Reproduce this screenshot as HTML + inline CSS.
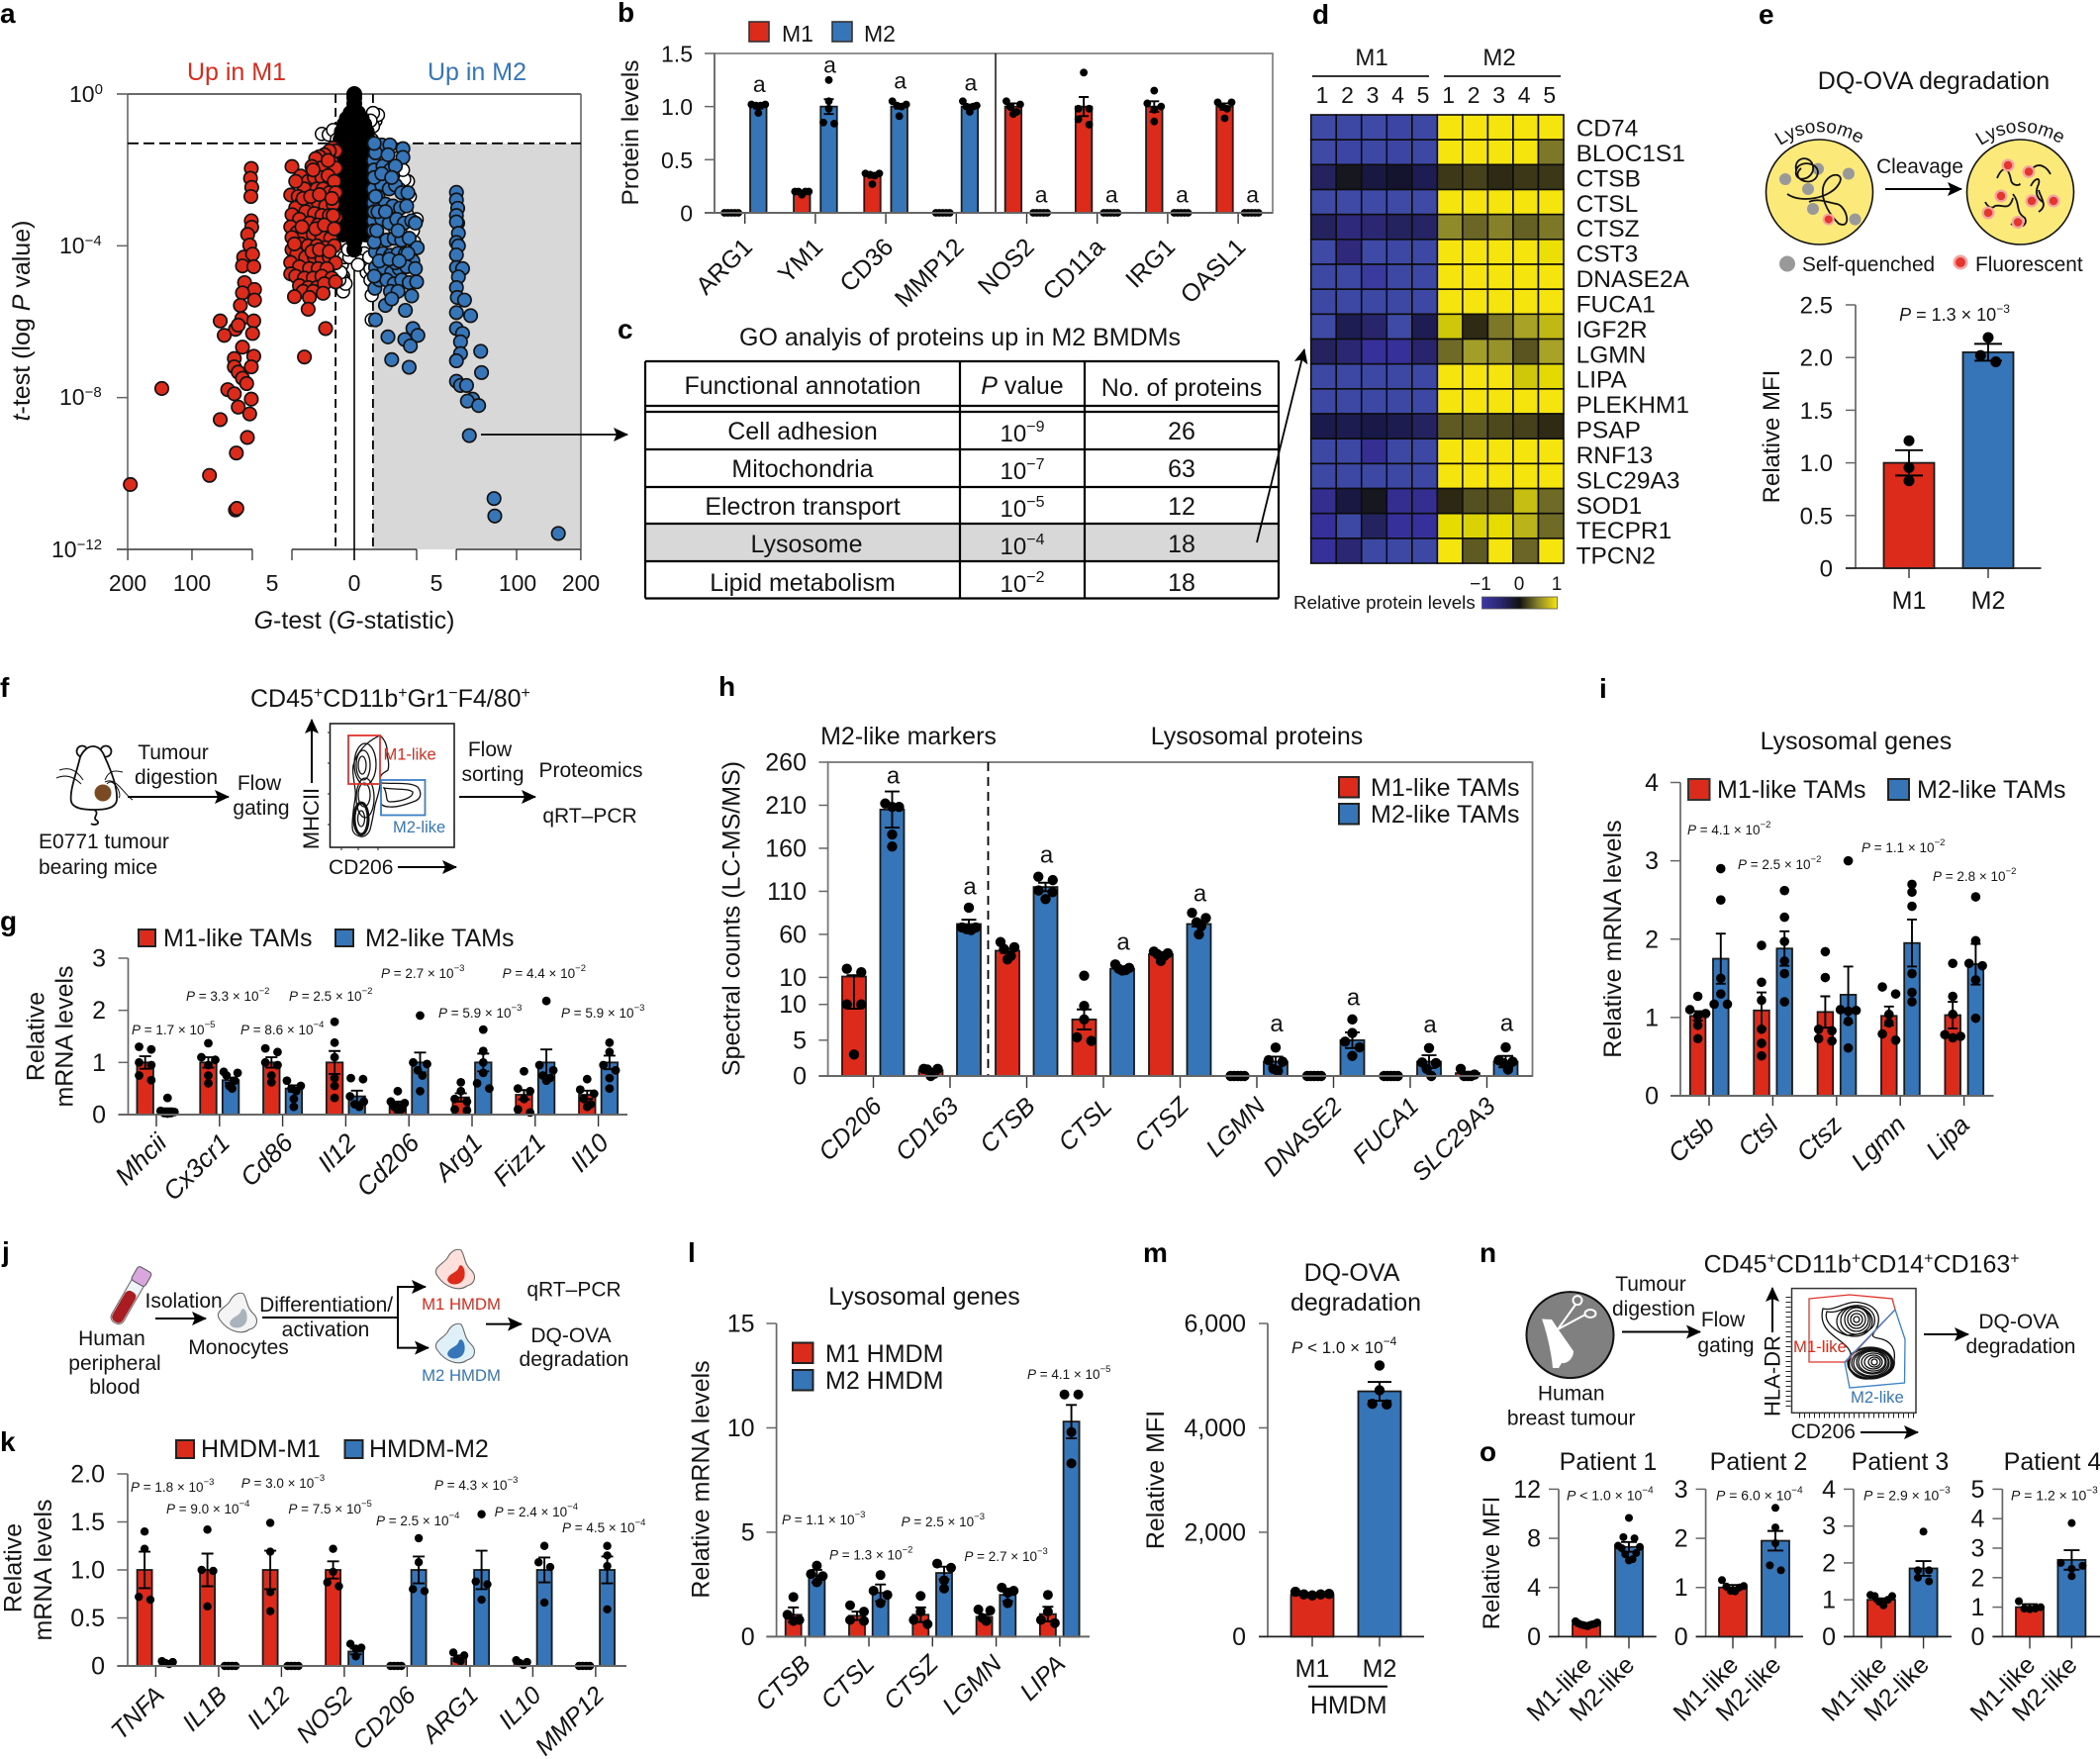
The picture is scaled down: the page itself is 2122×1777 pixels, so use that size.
<!DOCTYPE html>
<html lang="en">
<head>
<meta charset="utf-8">
<title>Proteomics figure of M1 and M2 macrophages</title>
<style>
html,body{margin:0;padding:0;background:#fff;width:2122px;height:1777px;overflow:hidden}
svg{display:block}
text{font-family:"Liberation Sans",sans-serif;fill:#141414}
.l{font-size:28px;font-weight:700;fill:#000}
.f17{font-size:16.7px}.f19{font-size:19px}.f20{font-size:20.8px}.f21{font-size:21px}.f22{font-size:22px}.f23{font-size:23px}.f24{font-size:24px}.f25{font-size:25px}
.p{font-size:13.5px}
.m{text-anchor:middle}
.red{fill:#dc2a1b}.blue{fill:#3676b8}
.ln{stroke:#000;stroke-width:2.2;fill:none}
.ct{stroke:#111;stroke-width:1.3;fill:none}
.sq{stroke:#111;stroke-width:1.8;fill:none}
</style>
</head>
<body>
<svg id="figure" xmlns="http://www.w3.org/2000/svg" width="2122" height="1777" viewBox="0 0 2122 1777">
<defs>
<marker id="ah" markerUnits="userSpaceOnUse" markerWidth="16" markerHeight="16" refX="14" refY="8" orient="auto"><path d="M0 1 L15 8 L0 15 L3 8 Z" fill="#000"/></marker>
<linearGradient id="cbar" x1="0" x2="1" y1="0" y2="0"><stop offset="0" stop-color="#3c3aa3"/><stop offset="0.25" stop-color="#2a2670"/><stop offset="0.5" stop-color="#111"/><stop offset="0.75" stop-color="#8a852a"/><stop offset="1" stop-color="#f6e40f"/></linearGradient>
</defs>

<g id="panel-letters">
<text class="l" x="0" y="23">a</text>
<text class="l" x="624" y="22">b</text>
<text class="l" x="624" y="342">c</text>
<text class="l" x="1326" y="24">d</text>
<text class="l" x="1777" y="24">e</text>
<text class="l" x="0" y="704">f</text>
<text class="l" x="0" y="940">g</text>
<text class="l" x="726" y="703">h</text>
<text class="l" x="1616" y="705">i</text>
<text class="l" x="2" y="1274">j</text>
<text class="l" x="0" y="1466">k</text>
<text class="l" x="695" y="1275">l</text>
<text class="l" x="1155" y="1275">m</text>
<text class="l" x="1495" y="1275">n</text>
<text class="l" x="1495" y="1476">o</text>
</g>

<!-- panel a static labels -->
<g id="panel-a-labels">
<text class="f25 m red" x="239" y="81">Up in M1</text>
<text class="f25 m blue" x="482" y="81">Up in M2</text>
<text class="f25 m" x="358" y="635"><tspan font-style="italic">G</tspan>-test (<tspan font-style="italic">G</tspan>-statistic)</text>
<text class="f25 m" transform="translate(30,324) rotate(-90)"><tspan font-style="italic">t</tspan>-test (log <tspan font-style="italic">P</tspan> value)</text>
<text class="f23" x="70" y="103">10<tspan dy="-8" font-size="15">0</tspan></text>
<text class="f23" x="60" y="256">10<tspan dy="-8" font-size="15">−4</tspan></text>
<text class="f23" x="60" y="409">10<tspan dy="-8" font-size="15">−8</tspan></text>
<text class="f23" x="52" y="563">10<tspan dy="-8" font-size="15">−12</tspan></text>
<text class="f23 m" x="129" y="597">200</text>
<text class="f23 m" x="194" y="597">100</text>
<text class="f23 m" x="275" y="597">5</text>
<text class="f23 m" x="358" y="597">0</text>
<text class="f23 m" x="441" y="597">5</text>
<text class="f23 m" x="523" y="597">100</text>
<text class="f23 m" x="587" y="597">200</text>
</g>
<g id="panel-a"></g>
<line x1="486" y1="439" x2="634" y2="439" stroke="#000" stroke-width="1.8" marker-end="url(#ah)"/>

<!-- panel b -->
<g>
<rect x="757" y="22" width="20" height="20" fill="#dc2a1b" stroke="#333" stroke-width="1.6"/>
<text class="f23" x="790" y="42">M1</text>
<rect x="841" y="22" width="20" height="20" fill="#3676b8" stroke="#333" stroke-width="1.6"/>
<text class="f23" x="873" y="42">M2</text>
<text font-size="24.5" class="m" transform="translate(645,134) rotate(-90)">Protein levels</text>
<rect x="722" y="54" width="564" height="161" fill="none" stroke="#777" stroke-width="1.6"/>
<line x1="1006" y1="54" x2="1006" y2="215" stroke="#000" stroke-width="1.4"/>
</g>
<g id="panel-b"></g>

<!-- panel c -->
<g>
<text class="f25 m" x="970" y="349">GO analyis of proteins up in M2 BMDMs</text>
<rect x="652" y="529" width="640" height="38" fill="#d8d8d8"/>
<path class="ln" d="M652 365H1292M652 410H1292M652 416H1292M652 454H1292M652 492H1292M652 529H1292M652 567H1292M652 604.5H1292M652 365V604.5M970 365V604.5M1096 365V604.5M1292 365V604.5"/>
<text class="f25 m" x="811" y="398">Functional annotation</text>
<text class="f25 m" x="1033" y="398"><tspan font-style="italic">P</tspan> value</text>
<text class="f25 m" x="1194" y="400">No. of proteins</text>
<text class="f25 m" x="811" y="444">Cell adhesion</text>
<text class="f25 m" x="811" y="482">Mitochondria</text>
<text class="f25 m" x="811" y="520">Electron transport</text>
<text class="f25 m" x="815" y="558">Lysosome</text>
<text class="f25 m" x="811" y="597">Lipid metabolism</text>
<text class="f24 m" x="1033" y="446">10<tspan dy="-10" font-size="16">−9</tspan></text>
<text class="f24 m" x="1033" y="484">10<tspan dy="-10" font-size="16">−7</tspan></text>
<text class="f24 m" x="1033" y="522">10<tspan dy="-10" font-size="16">−5</tspan></text>
<text class="f24 m" x="1033" y="560">10<tspan dy="-10" font-size="16">−4</tspan></text>
<text class="f24 m" x="1033" y="598">10<tspan dy="-10" font-size="16">−2</tspan></text>
<text class="f25 m" x="1194" y="444">26</text>
<text class="f25 m" x="1194" y="482">63</text>
<text class="f25 m" x="1194" y="520">12</text>
<text class="f25 m" x="1194" y="558">18</text>
<text class="f25 m" x="1194" y="597">18</text>
<line x1="1270" y1="548" x2="1318" y2="353" stroke="#000" stroke-width="1.8" marker-end="url(#ah)"/>
</g>

<!-- panel d -->
<g>
<text class="f24 m" x="1386" y="66">M1</text>
<text class="f24 m" x="1515" y="66">M2</text>
<path d="M1326 77H1444M1459 77H1577" stroke="#333" stroke-width="2" fill="none"/>
<text font-size="18.8" x="1307" y="615">Relative protein levels</text>
<rect x="1497.5" y="603" width="76" height="12" fill="url(#cbar)" stroke="#555" stroke-width="0.8"/>
<text class="f19 m" x="1496" y="596">−1</text>
<text class="f19 m" x="1535" y="596">0</text>
<text class="f19 m" x="1573" y="596">1</text>
</g>
<g id="panel-d"></g>

<!-- panel e schematic -->
<g>
<text class="f25 m" x="1954" y="90">DQ-OVA degradation</text>
<ellipse cx="1838.5" cy="194" rx="54" ry="53" fill="#fbe97a" stroke="#111" stroke-width="1.6"/>
<ellipse cx="2041.5" cy="194" rx="54" ry="53" fill="#fbe97a" stroke="#111" stroke-width="1.6"/>
<path id="arcL" d="M1792 152 Q1838 116 1886 150" fill="none"/>
<path id="arcR" d="M1995 152 Q2041 116 2089 150" fill="none"/>
<text font-size="19"><textPath href="#arcL" startOffset="50%" text-anchor="middle">Lysosome</textPath></text>
<text font-size="19"><textPath href="#arcR" startOffset="50%" text-anchor="middle">Lysosome</textPath></text>
<text class="f20 m" x="1940" y="175">Cleavage</text>
<line x1="1905" y1="191" x2="1982" y2="191" stroke="#000" stroke-width="2" marker-end="url(#ah)"/>
<g fill="#999"><circle cx="1837" cy="170.6" r="6"/><circle cx="1868" cy="175.5" r="6"/><circle cx="1804" cy="181" r="6"/><circle cx="1827" cy="191" r="6"/><circle cx="1832" cy="211" r="6"/><circle cx="1874.5" cy="221.6" r="6"/></g>
<path class="sq" d="M1815 172C1812 158 1830 156 1832 168C1834 182 1812 186 1815 172C1818 160 1842 165 1836 178C1830 190 1808 180 1820 170M1806 196C1820 206 1850 200 1858 186C1866 174 1846 172 1842 190C1840 204 1850 218 1858 226C1872 232 1866 208 1856 206C1846 204 1836 200 1828 204"/>
<circle cx="1847.7" cy="221.6" r="6" fill="#f5a5a0"/><circle cx="1847.7" cy="221.6" r="4" fill="#e5352f"/>
<path class="sq" d="M2018 180C2024 166 2030 170 2032 182C2034 190 2044 186 2040 186M2054 170C2060 164 2068 168 2072 176M2034 200C2030 214 2024 206 2016 208C2012 212 2008 208 2006 204M2034 196C2042 206 2036 214 2046 220C2050 228 2040 232 2032 226M2052 188C2056 180 2062 178 2060 186C2056 194 2058 200 2064 204M2060 192C2062 200 2070 208 2060 214"/>
<g><g fill="#f5a5a0"><circle cx="2029" cy="167" r="6.5"/><circle cx="2050" cy="173.5" r="6.5"/><circle cx="2022" cy="198" r="6.5"/><circle cx="2053" cy="203" r="6.5"/><circle cx="2075" cy="203" r="6.5"/><circle cx="2009" cy="215" r="6.5"/><circle cx="2039" cy="224.5" r="6.5"/></g><g fill="#e5352f"><circle cx="2029" cy="167" r="4.2"/><circle cx="2050" cy="173.5" r="4.2"/><circle cx="2022" cy="198" r="4.2"/><circle cx="2053" cy="203" r="4.2"/><circle cx="2075" cy="203" r="4.2"/><circle cx="2009" cy="215" r="4.2"/><circle cx="2039" cy="224.5" r="4.2"/></g></g>
<circle cx="1806" cy="266.5" r="8" fill="#999"/>
<text class="f20" x="1821" y="274">Self-quenched</text>
<circle cx="1981" cy="265" r="7.5" fill="#f5a5a0"/><circle cx="1981" cy="265" r="5" fill="#e5352f"/>
<text class="f20" x="1996" y="274">Fluorescent</text>
<text class="f24 m" transform="translate(1798,441) rotate(-90)">Relative MFI</text>
<text font-size="18" class="m" x="1975" y="324"><tspan font-style="italic">P</tspan> = 1.3 × 10<tspan dy="-8" font-size="12">−3</tspan></text>
</g>
<g id="panel-e"></g>

<!-- panel f -->
<g>
<text class="f25" x="253" y="714">CD45<tspan dy="-9" font-size="16">+</tspan><tspan dy="9">CD11b</tspan><tspan dy="-9" font-size="16">+</tspan><tspan dy="9">Gr1</tspan><tspan dy="-9" font-size="16">−</tspan><tspan dy="9">F4/80</tspan><tspan dy="-9" font-size="16">+</tspan></text>
<g fill="#fff" stroke="#111" stroke-width="1.8"><circle cx="83" cy="759" r="5.5"/><circle cx="107" cy="759" r="5.5"/><path d="M81 765C76 785 70 800 72 810C74 817 85 818 95 818C105 818 117 817 118 808C119 795 112 778 106 765C103 757 99 754 94 754C89 754 84 758 81 765Z"/><path d="M95 818C102 822 92 826 98 829C102 833 94 834 92 832" fill="none"/><path d="M84 788C76 776 68 775 60 778M82 792C74 784 66 782 57 786M106 788C110 778 116 778 124 780M108 792C114 784 124 802 120 806M106 790C118 784 126 804 134 808" fill="none" stroke-width="1"/><circle cx="104" cy="801" r="8.5" fill="#7a4a22" stroke="none"/></g>
<text class="f21 m" x="175" y="767">Tumour</text>
<text class="f21 m" x="178" y="792">digestion</text>
<line x1="129" y1="805" x2="231" y2="805" stroke="#000" stroke-width="2" marker-end="url(#ah)"/>
<text class="f21 m" x="262" y="798">Flow</text>
<text class="f21 m" x="264" y="823">gating</text>
<text class="f21" x="39" y="857">E0771 tumour</text>
<text class="f21" x="39" y="883">bearing mice</text>
<rect x="333.5" y="731" width="125.5" height="125" fill="#fff" stroke="#111" stroke-width="1.5"/>
<g><path class="ct" d="M364 845C355 843 355 838 357 820C358 810 360 805 359 798C357 785 356 778 357 773C360 762 368 750 384 743C390 748 392 756 391 763C393 768 393 775 392 778C388 781 384 782 384 787C385 795 381 806 379 813C377 825 375 834 374 838C372 843 368 846 364 845Z"/><ellipse class="ct" cx="365" cy="827" rx="3.5" ry="8"/><ellipse cx="365" cy="827" rx="7" ry="16" fill="none" stroke="#111" stroke-width="3"/><ellipse class="ct" cx="366" cy="773" rx="4" ry="9"/><ellipse class="ct" cx="367" cy="773" rx="7" ry="15"/><ellipse class="ct" cx="369" cy="772" rx="11" ry="21"/><ellipse class="ct" cx="368" cy="803" rx="6" ry="12"/><ellipse class="ct" cx="369" cy="806" rx="9" ry="20"/><path class="ct" d="M385 791C400 792 415 790 422 795C426 800 426 806 420 809C410 813 400 816 393 815C388 815 385 813 385 811M388 796C398 798 412 796 417 800C418 806 404 810 394 810C389 810 392 802 388 796Z"/></g>
<rect x="352" y="743" width="32" height="49" fill="none" stroke="#e2332b" stroke-width="1.8"/>
<rect x="385" y="788" width="44.5" height="35.5" fill="none" stroke="#3a80c4" stroke-width="1.8"/>
<text font-size="16.5" class="red" x="387.5" y="767.5">M1-like</text>
<text font-size="16.5" class="blue" x="397" y="841">M2-like</text>
<path d="M331 740H334M331 771H334M331 802H334M331 833H334M345 856V859M362 856V859M382 856V859" stroke="#222" stroke-width="1"/>
<text class="f22 m" transform="translate(322,827) rotate(-90)">MHCII</text>
<line x1="315" y1="791" x2="315" y2="727" stroke="#000" stroke-width="2" marker-end="url(#ah)"/>
<text class="f21" x="332" y="883">CD206</text>
<line x1="402" y1="876" x2="461" y2="876" stroke="#000" stroke-width="2" marker-end="url(#ah)"/>
<text class="f21 m" x="495" y="764">Flow</text>
<text class="f21 m" x="498" y="789">sorting</text>
<line x1="464" y1="805" x2="541" y2="805" stroke="#000" stroke-width="2" marker-end="url(#ah)"/>
<text class="f21 m" x="597" y="785">Proteomics</text>
<text class="f21 m" x="596" y="831">qRT–PCR</text>
</g>

<!-- panel g labels -->
<g>
<rect x="140" y="939" width="17" height="17" fill="#dc2a1b" stroke="#222" stroke-width="2"/>
<text class="f25" x="165" y="956">M1-like TAMs</text>
<rect x="339" y="939" width="18" height="17" fill="#3676b8" stroke="#222" stroke-width="2"/>
<text class="f25" x="369" y="956">M2-like TAMs</text>
<text class="f25 m" transform="translate(44.6,1047) rotate(-90)">Relative</text>
<text class="f25 m" transform="translate(73.6,1047) rotate(-90)">mRNA levels</text>
<text class="p" x="133" y="1045"><tspan font-style="italic">P</tspan> = 1.7 × 10<tspan dy="-7" font-size="9.5">−5</tspan></text>
<text class="p" x="188" y="1011"><tspan font-style="italic">P</tspan> = 3.3 × 10<tspan dy="-7" font-size="9.5">−2</tspan></text>
<text class="p" x="292" y="1011"><tspan font-style="italic">P</tspan> = 2.5 × 10<tspan dy="-7" font-size="9.5">−2</tspan></text>
<text class="p" x="243" y="1045"><tspan font-style="italic">P</tspan> = 8.6 × 10<tspan dy="-7" font-size="9.5">−4</tspan></text>
<text class="p" x="385" y="988"><tspan font-style="italic">P</tspan> = 2.7 × 10<tspan dy="-7" font-size="9.5">−3</tspan></text>
<text class="p" x="443" y="1028"><tspan font-style="italic">P</tspan> = 5.9 × 10<tspan dy="-7" font-size="9.5">−3</tspan></text>
<text class="p" x="507.6" y="988"><tspan font-style="italic">P</tspan> = 4.4 × 10<tspan dy="-7" font-size="9.5">−2</tspan></text>
<text class="p" x="567" y="1028"><tspan font-style="italic">P</tspan> = 5.9 × 10<tspan dy="-7" font-size="9.5">−3</tspan></text>
</g>
<g id="panel-g"></g>

<!-- panel h labels -->
<g>
<text class="f25 m" x="918" y="752">M2-like markers</text>
<text class="f25 m" x="1270" y="752">Lysosomal proteins</text>
<rect x="836.6" y="770" width="711.9" height="317" fill="none" stroke="#777" stroke-width="1.8"/>
<line x1="998.5" y1="770" x2="998.5" y2="1087" stroke="#000" stroke-width="1.8" stroke-dasharray="9 6"/>
<rect x="1353" y="785" width="20" height="20.5" fill="#dc2a1b" stroke="#222" stroke-width="2"/>
<text class="f25" x="1385" y="804">M1-like TAMs</text>
<rect x="1353" y="812" width="20" height="20.5" fill="#3676b8" stroke="#222" stroke-width="2"/>
<text class="f25" x="1385" y="831">M2-like TAMs</text>
<text class="f25 m" transform="translate(747.6,928) rotate(-90)">Spectral counts (LC-MS/MS)</text>
</g>
<g id="panel-h"></g>

<!-- panel i labels -->
<g>
<text class="f25 m" x="1875.5" y="757">Lysosomal genes</text>
<rect x="1706" y="787" width="21.5" height="21" fill="#dc2a1b" stroke="#333" stroke-width="2"/>
<text class="f25" x="1735" y="806">M1-like TAMs</text>
<rect x="1908" y="787" width="21" height="21" fill="#3676b8" stroke="#222" stroke-width="2"/>
<text class="f25" x="1937" y="806">M2-like TAMs</text>
<text class="f25 m" transform="translate(1638,948.6) rotate(-90)">Relative mRNA levels</text>
<text class="p" x="1705" y="843"><tspan font-style="italic">P</tspan> = 4.1 × 10<tspan dy="-7" font-size="9.5">−2</tspan></text>
<text class="p" x="1756" y="878"><tspan font-style="italic">P</tspan> = 2.5 × 10<tspan dy="-7" font-size="9.5">−2</tspan></text>
<text class="p" x="1881" y="861"><tspan font-style="italic">P</tspan> = 1.1 × 10<tspan dy="-7" font-size="9.5">−2</tspan></text>
<text class="p" x="1953" y="890"><tspan font-style="italic">P</tspan> = 2.8 × 10<tspan dy="-7" font-size="9.5">−2</tspan></text>
</g>
<g id="panel-i"></g>

<!-- panel j -->
<g>
<g transform="translate(130,1312) rotate(30)"><rect x="-7" y="-30" width="14" height="58" rx="6" fill="#eef4f8" stroke="#777" stroke-width="1.2"/><rect x="-6" y="-8" width="12" height="35" rx="5" fill="#a81c22"/><rect x="-8" y="-34" width="16" height="16" rx="3" fill="#d9a6e0" stroke="#555" stroke-width="1"/></g>
<text class="f21 m" x="185.6" y="1321">Isolation</text>
<line x1="157" y1="1332" x2="208" y2="1332" stroke="#000" stroke-width="2" marker-end="url(#ah)"/>
<text class="f21 m" x="113" y="1359">Human</text>
<text class="f21 m" x="116" y="1384">peripheral</text>
<text class="f21 m" x="116" y="1408">blood</text>
<g transform="translate(240,1327)"><path d="M-18 6C-24 -2 -12 -6 -8 -12C-4 -20 2 -22 6 -20C10 -14 9 -6 16 0C22 6 20 14 12 16C4 22 -10 18 -18 6Z" fill="#f4f4f4" stroke="#666" stroke-width="1.1"/><path d="M-8 10C-6 2 2 4 4 -4C8 -8 12 4 8 10C4 16 -6 16 -8 10Z" fill="#a8b3bb"/></g>
<text class="f21 m" x="241" y="1368">Monocytes</text>
<text class="f21 m" x="329.6" y="1325">Differentiation/</text>
<text class="f21 m" x="329" y="1350">activation</text>
<path d="M265 1331H402M402 1361.6V1300" stroke="#000" stroke-width="2" fill="none"/>
<line x1="401" y1="1300" x2="430" y2="1300" stroke="#000" stroke-width="2" marker-end="url(#ah)"/>
<line x1="401" y1="1361.6" x2="433" y2="1361.6" stroke="#000" stroke-width="2" marker-end="url(#ah)"/>
<g transform="translate(460,1283)"><path d="M-18 6C-24 -2 -12 -6 -8 -12C-4 -20 2 -22 6 -20C10 -14 9 -6 16 0C22 6 20 14 12 16C4 22 -10 18 -18 6Z" fill="#fde0dc" stroke="#666" stroke-width="1.1"/><path d="M-8 10C-6 2 2 4 4 -4C8 -8 12 4 8 10C4 16 -6 16 -8 10Z" fill="#dc2a1b"/></g>
<g transform="translate(460,1358)"><path d="M-18 6C-24 -2 -12 -6 -8 -12C-4 -20 2 -22 6 -20C10 -14 9 -6 16 0C22 6 20 14 12 16C4 22 -10 18 -18 6Z" fill="#e0f0f8" stroke="#666" stroke-width="1.1"/><path d="M-8 10C-6 2 2 4 4 -4C8 -8 12 4 8 10C4 16 -6 16 -8 10Z" fill="#3676b8"/></g>
<text class="f17 m red" x="466" y="1323">M1 HMDM</text>
<text class="f17 m blue" x="466" y="1395">M2 HMDM</text>
<line x1="491" y1="1337.6" x2="527" y2="1337.6" stroke="#000" stroke-width="2" marker-end="url(#ah)"/>
<text class="f21 m" x="580" y="1309.5">qRT–PCR</text>
<text class="f21 m" x="577" y="1356">DQ-OVA</text>
<text class="f21 m" x="580" y="1380">degradation</text>
</g>

<!-- panel k labels -->
<g>
<rect x="178" y="1455" width="18" height="18" fill="#dc2a1b" stroke="#222" stroke-width="2"/>
<text class="f25" x="203" y="1472">HMDM-M1</text>
<rect x="348.5" y="1455" width="18" height="18" fill="#3676b8" stroke="#222" stroke-width="2"/>
<text class="f25" x="373" y="1472">HMDM-M2</text>
<text class="f25 m" transform="translate(21.7,1584) rotate(-90)">Relative</text>
<text class="f25 m" transform="translate(52,1586) rotate(-90)">mRNA levels</text>
<text class="p" x="132" y="1507"><tspan font-style="italic">P</tspan> = 1.8 × 10<tspan dy="-7" font-size="9.5">−3</tspan></text>
<text class="p" x="168" y="1529"><tspan font-style="italic">P</tspan> = 9.0 × 10<tspan dy="-7" font-size="9.5">−4</tspan></text>
<text class="p" x="243.7" y="1503"><tspan font-style="italic">P</tspan> = 3.0 × 10<tspan dy="-7" font-size="9.5">−3</tspan></text>
<text class="p" x="291.4" y="1529"><tspan font-style="italic">P</tspan> = 7.5 × 10<tspan dy="-7" font-size="9.5">−5</tspan></text>
<text class="p" x="380" y="1541"><tspan font-style="italic">P</tspan> = 2.5 × 10<tspan dy="-7" font-size="9.5">−4</tspan></text>
<text class="p" x="439" y="1505"><tspan font-style="italic">P</tspan> = 4.3 × 10<tspan dy="-7" font-size="9.5">−3</tspan></text>
<text class="p" x="499.6" y="1532"><tspan font-style="italic">P</tspan> = 2.4 × 10<tspan dy="-7" font-size="9.5">−4</tspan></text>
<text class="p" x="568" y="1548"><tspan font-style="italic">P</tspan> = 4.5 × 10<tspan dy="-7" font-size="9.5">−4</tspan></text>
</g>
<g id="panel-k"></g>

<!-- panel l labels -->
<g>
<text class="f25 m" x="934" y="1318">Lysosomal genes</text>
<rect x="801" y="1356.5" width="20.5" height="20.5" fill="#dc2a1b" stroke="#222" stroke-width="2"/>
<text class="f25" x="834" y="1376">M1 HMDM</text>
<rect x="801" y="1384" width="20.5" height="20.5" fill="#3676b8" stroke="#222" stroke-width="2"/>
<text class="f25" x="834" y="1403">M2 HMDM</text>
<text class="f25 m" transform="translate(716.7,1494.5) rotate(-90)">Relative mRNA levels</text>
<text class="p" x="790" y="1540"><tspan font-style="italic">P</tspan> = 1.1 × 10<tspan dy="-7" font-size="9.5">−3</tspan></text>
<text class="p" x="838" y="1575.6"><tspan font-style="italic">P</tspan> = 1.3 × 10<tspan dy="-7" font-size="9.5">−2</tspan></text>
<text class="p" x="910.6" y="1542"><tspan font-style="italic">P</tspan> = 2.5 × 10<tspan dy="-7" font-size="9.5">−3</tspan></text>
<text class="p" x="974.4" y="1577"><tspan font-style="italic">P</tspan> = 2.7 × 10<tspan dy="-7" font-size="9.5">−3</tspan></text>
<text class="p" x="1038" y="1393"><tspan font-style="italic">P</tspan> = 4.1 × 10<tspan dy="-7" font-size="9.5">−5</tspan></text>
</g>
<g id="panel-l"></g>

<!-- panel m labels -->
<g>
<text class="f25 m" x="1366" y="1294">DQ-OVA</text>
<text class="f25 m" x="1370" y="1324">degradation</text>
<text font-size="17" x="1305" y="1367"><tspan font-style="italic">P</tspan> &lt; 1.0 × 10<tspan dy="-8" font-size="12">−4</tspan></text>
<text class="f25 m" transform="translate(1176,1495) rotate(-90)">Relative MFI</text>
<line x1="1322" y1="1703.7" x2="1402" y2="1703.7" stroke="#000" stroke-width="2"/>
<text class="f25 m" x="1362.7" y="1731">HMDM</text>
</g>
<g id="panel-m"></g>

<!-- panel n -->
<g>
<text class="f25" x="1721.6" y="1285.5">CD45<tspan dy="-9" font-size="16">+</tspan><tspan dy="9">CD11b</tspan><tspan dy="-9" font-size="16">+</tspan><tspan dy="9">CD14</tspan><tspan dy="-9" font-size="16">+</tspan><tspan dy="9">CD163</tspan><tspan dy="-9" font-size="16">+</tspan></text>
<ellipse cx="1586.5" cy="1348.6" rx="44" ry="43.5" fill="#808080" stroke="#111" stroke-width="2"/>
<path d="M1558 1332.5L1568 1333L1576 1345L1590 1365C1590 1372 1584 1378 1578 1377L1575 1382L1569 1382C1568 1368 1563 1346 1558 1332.5Z" fill="#fff"/>
<g fill="none" stroke="#fff" stroke-width="2"><circle cx="1594" cy="1313.6" r="4.5"/><ellipse cx="1607" cy="1327" rx="5.5" ry="4"/><path d="M1592 1318L1574 1343M1602 1328L1574 1343"/></g>
<text class="f21 m" x="1668" y="1304">Tumour</text>
<text class="f21 m" x="1671" y="1329">digestion</text>
<line x1="1639" y1="1345.5" x2="1718" y2="1345.5" stroke="#000" stroke-width="2" marker-end="url(#ah)"/>
<text class="f21 m" x="1741" y="1340">Flow</text>
<text class="f21 m" x="1744" y="1366">gating</text>
<text class="f21 m" x="1587.7" y="1414.7">Human</text>
<text class="f21 m" x="1587.7" y="1439.7">breast tumour</text>
<rect x="1810.5" y="1301.6" width="125.5" height="125.7" fill="#fff" stroke="#333" stroke-width="1.5"/>
<g>
<path class="ct" d="M1842 1322C1855 1325 1865 1313 1880 1316C1892 1318 1900 1325 1898 1336C1897 1346 1886 1350 1898 1352C1910 1354 1916 1362 1914 1374C1916 1386 1904 1392 1888 1393C1872 1394 1866 1382 1870 1372C1872 1364 1864 1358 1856 1352C1848 1346 1838 1338 1842 1322Z"/>
<path class="ct" d="M1846 1325C1858 1328 1866 1317 1880 1319C1890 1321 1896 1328 1894 1337C1892 1345 1878 1349 1866 1349C1856 1346 1842 1336 1846 1325Z"/>
<ellipse class="ct" cx="1876" cy="1333" rx="3" ry="3"/><ellipse class="ct" cx="1876" cy="1333" rx="6" ry="6"/><ellipse class="ct" cx="1876" cy="1333" rx="9" ry="9"/><ellipse class="ct" cx="1876" cy="1333" rx="12" ry="12"/><ellipse class="ct" cx="1875" cy="1334" rx="15" ry="14"/><ellipse class="ct" cx="1874" cy="1335" rx="18" ry="15"/>
<ellipse class="ct" cx="1894" cy="1376" rx="3" ry="3"/><ellipse class="ct" cx="1894" cy="1376" rx="6" ry="5"/><ellipse class="ct" cx="1893" cy="1376" rx="9" ry="7"/><ellipse class="ct" cx="1893" cy="1376" rx="12" ry="9"/><ellipse class="ct" cx="1892" cy="1376" rx="14" ry="11"/><ellipse class="ct" cx="1892" cy="1376" rx="16" ry="12"/><ellipse class="ct" cx="1891" cy="1377" rx="18" ry="13"/><ellipse class="ct" cx="1891" cy="1377" rx="20" ry="14"/><ellipse class="ct" cx="1890" cy="1377" rx="22" ry="15"/><ellipse class="ct" cx="1890" cy="1377" rx="23" ry="16"/>
</g>
<path d="M1828 1312L1869 1308L1912 1312L1915 1323L1865 1376L1828 1376Z" fill="none" stroke="#e2332b" stroke-width="1.3"/>
<path d="M1915 1323L1925 1353L1924.5 1397L1869 1402L1864 1376Z" fill="none" stroke="#3a80c4" stroke-width="1.3"/>
<text class="f17 red" x="1812" y="1366">M1-like</text>
<text class="f17 blue" x="1870" y="1417">M2-like</text>
<path d="M1807 1310V1425" stroke="#222" stroke-width="5" stroke-dasharray="1 4" fill="none"/>
<path d="M1818 1430H1935" stroke="#222" stroke-width="5" stroke-dasharray="1 4" fill="none"/>
<text class="f22 m" transform="translate(1798.6,1390) rotate(-90)">HLA-DR</text>
<line x1="1791" y1="1346" x2="1791" y2="1301" stroke="#000" stroke-width="2" marker-end="url(#ah)"/>
<text class="f21" x="1809.6" y="1453">CD206</text>
<line x1="1880" y1="1447" x2="1938" y2="1447" stroke="#000" stroke-width="2" marker-end="url(#ah)"/>
<line x1="1944" y1="1348" x2="1989" y2="1348" stroke="#000" stroke-width="2" marker-end="url(#ah)"/>
<text class="f21 m" x="2040" y="1342">DQ-OVA</text>
<text class="f21 m" x="2042" y="1367">degradation</text>
</g>

<!-- panel o labels -->
<g>
<text class="f25 m" x="1625" y="1485">Patient 1</text>
<text class="f25 m" x="1777" y="1485">Patient 2</text>
<text class="f25 m" x="1920" y="1485">Patient 3</text>
<text class="f25 m" x="2074" y="1485">Patient 4</text>
<text class="f24 m" transform="translate(1515,1579) rotate(-90)">Relative MFI</text>
<text font-size="14" x="1583" y="1515.7"><tspan font-style="italic">P</tspan> &lt; 1.0 × 10<tspan dy="-7" font-size="10">−4</tspan></text>
<text font-size="14" x="1734" y="1515.7"><tspan font-style="italic">P</tspan> = 6.0 × 10<tspan dy="-7" font-size="10">−4</tspan></text>
<text font-size="14" x="1883" y="1515.7"><tspan font-style="italic">P</tspan> = 2.9 × 10<tspan dy="-7" font-size="10">−3</tspan></text>
<text font-size="14" x="2032" y="1515.7"><tspan font-style="italic">P</tspan> = 1.2 × 10<tspan dy="-7" font-size="10">−3</tspan></text>
</g>
<g id="panel-o"></g>
</svg>

<script>
/* ---------- panel a data: G statistic (signed), -log10 P ---------- */
const aOpenG=[-2.6,-2.05,-1.7,1.7,1.5,1.9,1.5,1.3,-1.4,1.2,1.4,-1,-1,-0.9,-1,-0.9,-0.8,-0.7,1,1,1.3,1.3,0.8,0.5,-0.4,1.4,1.4,4.3,4.45,5,4,3.4,4.5,-0.5,0.3,-1.2,-1.1,1.2,2.4,2.9,3.4,3.9,3.1,3.6,4.2,2.6,4.8,4.7,2.2,3.3];
const aOpenK=[1.05,1.07,0.95,0.7,0.85,0.55,0.5,0.7,1.2,1.2,1.2,3,4.5,4.8,4.85,5.2,4.3,5,4.3,4.7,4.6,4.9,4.2,4.4,4.3,5.3,5.95,2.3,2.7,3.3,2.25,2,4.2,4.1,4.5,4.9,4.7,4.3,1.6,1.75,1.7,2,2.15,2.5,3.15,2.1,3.9,3.6,3.05,3.6];
const aCoreG=[0,0,0,0,0,-0.3,0.3,-0.6,0.6,-0.8,0.8,-1,1,0,0,-1.1,1.1,-0.5,0.5,-0.9,0.9,-1.2,1.15,0,-0.5,0.5,-1.1,1.1,0,-0.6,0.6,-1.1,1.1,0,-0.6,0.6,-1,1,0,-0.5,0.5,-0.9,0.9,0,
-0.5,0.5,0,-0.6,0.6,-0.6,0.6,0,-0.5,0.5,0,-0.9,0.9,-0.7,0.7,-1,1,-0.3,0.3,-0.8,0.8,0];
const aCoreK=[0,0.1,0.25,0.4,0.55,0.5,0.5,0.65,0.65,0.8,0.8,1,1,0.8,1.1,1.2,1.2,1.3,1.3,1.5,1.5,1.7,1.7,1.6,1.9,1.9,2.1,2.1,2.3,2.5,2.5,2.7,2.7,2.9,3.1,3.1,3.3,3.3,3.5,3.7,3.7,3.7,3.7,3.9,
0.9,0.9,1.4,1.8,1.8,2.2,2.2,2,2.8,2.8,2.6,2.4,2.4,3,3,1,1,3.4,3.4,3.5,3.5,4.1];
const aRedG=[-1.7,-1.5,-2,-2.4,-2.8,-3.1,-1.8,-2.3,-2.7,-3.4,-5,-1.5,-4.3,-3.7,-3.2,-2.6,-2.1,-1.6,-3.6,-4,-3,-2.5,-2,-1.5,-5.1,-4.5,-4.2,-3.5,-2.9,-2.3,-1.7,-4.7,-3.9,-3.2,-2.6,-2,-1.5,-5,-4.4,-3.6,-2.9,-2.2,-1.7,-5.1,-4.6,-4,-3.3,-2.6,-1.9,-5,-4.3,-3.7,-3,-2.3,-1.6,-5,-4.6,-3.9,-3.2,-2.6,-2,-5.1,-1.5,-4.4,-3.6,-2.9,-2.2,-5.1,-4.7,-4,-3.3,-2.6,-1.8,-4.4,-3.7,-3,-2.4,-1.5,-4.1,-3.3,-2.5,-4.8,-3.6,-3.7,-2.3,-4,
-2.1,-3.3,-4.7,-4.1,-3.5,-2.8,-1.8,-4.2,-3.1,-2.4,-1.7,-4.8,-3.4,-2.8,-2,-1.6,
-15.4,-16.5,-14.8,-16,-15.4,-14.8,-20.6,-17.7,-26.3,-28,-13.6,-11.9,-25,-10.8,-28,-31,-10.8,-59.7,-29,-38,-54,-34,-11.9,-13.6,-28,-11.9,-39.6,-39.6,-34,-28,-15.4,-49,-39.6,-22,-15.4,-34,-17.7,-59.7,-21,-36.7,-75,-147,-196,-38,-36];
const aRedK=[1.42,1.5,1.5,1.6,1.65,1.7,1.8,1.9,1.95,1.91,1.91,1.95,2.16,2.3,2.2,2.2,2.15,2.3,2.55,2.5,2.5,2.5,2.6,2.6,2.66,2.7,2.85,2.9,2.85,2.95,2.9,3,3.1,3.15,3.2,3.2,3.25,3.18,3.3,3.4,3.45,3.5,3.5,3.5,3.65,3.7,3.7,3.75,3.8,3.78,3.95,4,4,4.05,4,4.1,4.2,4.3,4.3,4.35,4.3,4.44,4.45,4.55,4.6,4.6,4.6,4.74,4.8,4.85,4.85,4.8,4.85,5.05,5.1,5.1,5,4.95,5.2,5.2,5.25,5.34,5.36,5.67,6.18,6.93,
1.75,2,2.3,2.75,2.7,2.65,2.75,3.5,3.55,3.45,3.2,3.95,4.15,4.1,4.15,3.55,
1.96,2.22,2.46,2.7,3.34,3.51,3.7,3.98,4.3,4.53,4.22,4.55,4.97,5.15,5.24,5.57,5.43,5.98,5.92,6.2,6.36,6.09,5.98,6.31,6.67,6.91,6.97,7.19,7.33,7.49,7.19,7.79,7.9,7.63,8.04,8.25,8.43,8.58,9.05,9.46,10.05,7.76,10.29,10.96,10.92];
const aBlueG=[1.55,2.2,2.85,3.9,3.9,1.7,1.6,2.3,2.9,1.55,1.55,2.2,2.8,3.3,3.8,4.3,1.9,2.5,3.1,3.7,4.2,1.55,1.55,2.2,2.8,3.4,4,4.6,4.9,2,2.6,3.2,3.8,4.4,1.7,2.3,2.9,3.5,4.1,5.05,4.7,1.7,2.4,3,3.6,4.2,4.9,1.65,2,2.6,3.2,3.8,4.4,5,2.9,3.5,4.6,2.5,3,4.1,1.7,2.7,4.7,5.1,4.05,4.5,3,4.4,
1.6,1.6,1.6,1.6,1.6,1.7,2.7,3.3,1.9,2.2,3,3.5,1.8,2.5,3.3,4.3,2,2.8,3.6,
14.2,14.2,16,14.2,16,14.2,17,14.2,17,14.2,14.2,22.9,17,14.2,15.4,25.7,14.2,34.4,14.2,22.9,20,20,14.2,48.8,50,14.2,20,28.6,37.3,29.8,45.9,32.6,67.8,68.9,165];
const aBlueK=[1.75,1.34,1.34,1.44,1.67,1.55,2,1.9,2,2.5,2.87,2.4,2.5,2.4,2.6,2.6,2.7,2.9,2.95,3,2.95,3.34,3.6,3.3,3.4,3.3,3.4,3.34,3.4,3.8,3.85,3.8,3.85,3.8,4.16,4.2,4.25,4.2,4.2,4.05,4.4,4.57,4.6,4.7,4.6,4.55,4.6,5.12,4.9,4.9,5,4.9,4.97,4.95,5.2,5.2,5.32,5.57,5.4,5.7,5.95,6.4,6.18,6.36,6.47,6.64,7,7.2,
2.2,3.1,3.9,4.8,1.3,2.7,1.6,1.9,3.1,2.1,2.2,3.6,3.6,3.1,4.45,4.2,4.4,4.35,4.4,
2.59,2.79,3.01,3.2,3.4,3.37,3.67,3.91,4,4.24,4.57,4.6,4.82,5.1,5.36,5.43,5.76,5.84,6.18,6.31,6.53,6.84,7.03,6.78,7.34,7.57,7.68,7.68,8.04,8.09,8.21,9,10.66,11.12,11.58];
const aYTicks=[0,4,8,12];
const aXTickValues=[-200,-100,-14,-5,5,14,100,200];

/* ---------- panel b data ---------- */
const bCats=["ARG1","YM1","CD36","MMP12","NOS2","CD11a","IRG1","OASL1"];
const bTicks=[0,0.5,1,1.5];
const bTickLabels=["0","0.5","1.0","1.5"];
const bM1=[0,0.2,0.35,0,1,1,1,1];
const bM2=[1,1,1,1,0,0,0,0];
const bErr1=[0,0.01,0.02,0,0.03,0.09,0.05,0.03];
const bErr2=[0.02,0.07,0.02,0.02,0,0,0,0];
const bDots1=[[0,0,0,0,0],[0.2,0.2,0.2,0.2,0.17],[0.37,0.37,0.36,0.35,0.27],[0,0,0,0,0],[1.05,1.02,1,0.95,0.93],[1.32,0.98,0.98,0.88,0.83],[1.15,1.03,1,0.97,0.86],[1.04,1.04,1,0.98,0.89]];
const bDots2=[[1.02,1.02,1.01,1.01,0.94],[1.25,1.05,0.98,0.85,0.84],[1.05,1.02,1,1.01,0.91],[1.05,1.01,1,1,0.95],[0,0,0,0,0],[0,0,0,0,0],[0,0,0,0,0],[0,0,0,0,0]];
const bSig=[1.137,1.32,1.17,1.15,0.1,0.1,0.1,0.1];

/* ---------- panel d data ---------- */
const heatGenes=["CD74","BLOC1S1","CTSB","CTSL","CTSZ","CST3","DNASE2A","FUCA1","IGF2R","LGMN","LIPA","PLEKHM1","PSAP","RNF13","SLC29A3","SOD1","TECPR1","TPCN2"];
const heatSampleLabels=["1","2","3","4","5","1","2","3","4","5"];
const heatM1=[[-1,-0.98,-1,-0.97,-0.98],[-1,-0.97,-0.98,-0.97,-0.98],[-0.5,-0.1,-0.3,-0.2,-0.4],[-1,-1,-1,-1,-1],[-0.5,-0.7,-0.65,-0.5,-0.55],[-1,-0.7,-1,-0.99,-0.98],[-0.98,-0.98,-0.9,-0.98,-0.98],[-0.98,-0.98,-0.98,-0.98,-0.98],[-1,-0.4,-0.6,-1,-0.4],[-0.5,-0.65,-0.85,-0.85,-0.6],[-0.98,-0.98,-0.98,-0.98,-0.98],[-0.98,-0.98,-0.98,-0.98,-0.98],[-0.35,-0.38,-0.33,-0.38,-0.5],[-0.98,-0.98,-0.82,-0.98,-0.98],[-0.98,-0.98,-0.98,-0.98,-0.98],[-0.8,-0.3,-0.1,-0.8,-0.8],[-0.85,-0.98,-0.5,-0.85,-0.85],[-0.85,-0.65,-0.98,-0.98,-0.98]];
const heatM2=[[1,1,1,1,1],[1,1,1,1,0.55],[0.28,0.32,0.2,0.27,0.27],[1,1,1,1,1],[0.62,0.48,0.58,0.45,0.55],[1,1,1,1,0.97],[1,1,1,1,1],[1,1,1,1,1],[0.85,0.2,0.55,0.72,0.8],[0.5,0.7,0.65,0.4,0.72],[1,1,1,0.85,0.94],[1,1,1,1,1],[0.42,0.42,0.35,0.32,0.2],[1,1,1,1,1],[1,1,1,1,1],[0.18,0.38,0.4,0.82,0.5],[0.95,0.9,0.95,0.78,0.5],[1,0.42,1,0.48,1]];

/* ---------- panel e data ---------- */
const eCats=["M1","M2"];
const eMeans=[1,2.05];
const eErrs=[0.12,0.08];
const eDots=[[1.21,0.955,0.83],[2.19,2.02,1.96]];
const eTicks=[0,0.5,1,1.5,2,2.5];
const eTickLabels=["0","0.5","1.0","1.5","2.0","2.5"];

/* ---------- panel g data ---------- */
const gCats=["Mhcii","Cx3cr1","Cd86","Il12","Cd206","Arg1","Fizz1","Il10"];
const gTicks=[0,1,2,3];
const gM1=[1,1,1,1,0.22,0.33,0.38,0.38];
const gM2=[0.07,0.66,0.5,0.35,1,1,1,1];
const gErr1=[0.12,0.1,0.1,0.22,0.03,0.08,0.09,0.08];
const gErr2=[0.05,0.05,0.06,0.11,0.19,0.17,0.25,0.13];
const gDots1=[[1.3,1.25,1,0.95,0.75,0.66],[1.37,1.1,1.05,0.95,0.75,0.6],[1.27,1.2,1,0.95,0.75,0.62],[1.78,1.38,1.1,0.7,0.55,0.32],[0.45,0.25,0.22,0.15,0.1,0.08],[0.62,0.45,0.3,0.25,0.1,0.08],[0.83,0.5,0.45,0.3,0.1,0.04],[0.68,0.48,0.4,0.3,0.2,0.15]];
const gDots2=[[0.32,0.07,0.05,0.03,0.03,0.02],[0.82,0.8,0.75,0.65,0.55,0.5],[0.65,0.55,0.5,0.45,0.3,0.15],[0.7,0.68,0.35,0.25,0.2,0.15],[1.9,1,0.97,0.85,0.75,0.45],[1.63,1.22,1,0.8,0.6,0.5],[2.18,0.95,0.85,0.75,0.7,0.65],[1.38,1.2,0.95,0.85,0.7,0.5]];

/* ---------- panel h data ---------- */
const hCats=["CD206","CD163","CTSB","CTSL","CTSZ","LGMN","DNASE2","FUCA1","SLC29A3"];
const hTicksLower=[0,5,10];
const hTicksUpper=[10,60,110,160,210,260];
const hM1=[11,0.8,41,7.9,37,0,0,0,0.4];
const hM2=[205,72,115,20,72,2,5,2,2];
const hErr1=[1.6,0.2,2.5,1.4,1,0,0,0,0.2];
const hErr2=[21,5,5,1,3,0.7,1.1,0.9,0.8];
const hDots1=[[20,16,10,10,3],[1,1,0.9,0.3,0],[51,45,43,35,31],[12,9.8,7.9,5.4,4.9],[40,38,37,35,29],[0,0,0,0,0],[0,0,0,0,0],[0,0,0,0,0],[1,0.2,0,0,0]];
const hDots2=[[212,208,208,176,162],[91,68,68,66,65],[127,123,111,109,101],[25,21,20,18.6,18],[85,79,74,69.5,60],[3.97,2.2,2,1,0.7],[7.9,6,4.8,4,2.8],[3.9,1.9,1.8,1,0],[4,2.2,2,1.8,0.9]];
const hSig=[235,106.5,143.5,42,98.7,6.2,9.9,6.07,6.3];

/* ---------- panel i data ---------- */
const iCats=["Ctsb","Ctsl","Ctsz","Lgmn","Lipa"];
const iTicks=[0,1,2,3,4];
const iM1=[1.02,1.09,1.07,1.02,1.03];
const iM2=[1.75,1.88,1.29,1.95,1.68];
const iErr1=[0.06,0.23,0.2,0.12,0.17];
const iErr2=[0.32,0.22,0.36,0.3,0.26];
const iDots1=[[1.27,1.1,1.05,1.02,0.9,0.73],[1.92,1.45,1.22,0.85,0.67,0.51],[1.84,1.51,0.85,0.83,0.73,0.7],[1.39,1.3,1.04,0.93,0.79,0.71],[1.69,1.27,1.04,0.78,0.76,0.74]];
const iDots2=[[2.9,2.5,1.5,1.3,1.17,1.17],[2.62,2.28,1.97,1.72,1.56,1.2],[3,1.1,1.09,1.08,0.95,0.61],[2.7,2.6,2.42,1.56,1.32,1.2],[2.54,1.98,1.69,1.66,1.48,0.99]];

/* ---------- panel k data ---------- */
const kCats=["TNFA","IL1B","IL12","NOS2","CD206","ARG1","IL10","MMP12"];
const kTicks=[0,0.5,1,1.5,2];
const kTickLabels=["0","0.5","1.0","1.5","2.0"];
const kM1=[1,1,1,1,0,0.08,0.03,0];
const kM2=[0.03,0,0,0.15,1,1,1,1];
const kErr1=[0.19,0.17,0.2,0.09,0,0.03,0.01,0];
const kErr2=[0.01,0,0,0.03,0.14,0.2,0.13,0.14];
const kDots1=[[1.4,1.22,0.72,0.69],[1.42,1,0.99,0.62],[1.49,1.19,0.77,0.57],[1.22,0.98,0.87,0.83],[0,0,0,0],[0.14,0.11,0.07,0.05],[0.06,0.04,0.03,0.01],[0,0,0,0]];
const kDots2=[[0.05,0.04,0.03,0.02],[0,0,0,0],[0,0,0,0],[0.23,0.19,0.18,0.1],[1.33,1.08,0.8,0.78],[1.58,0.88,0.85,0.69],[1.25,1.08,1.03,0.66],[1.25,1.15,1.04,0.59]];

/* ---------- panel l data ---------- */
const lCats=["CTSB","CTSL","CTSZ","LGMN","LIPA"];
const lTicks=[0,5,10,15];
const lM1=[1.05,1,1.05,0.95,1.08];
const lM2=[2.9,2.1,3.05,2,10.3];
const lErr1=[0.35,0.2,0.35,0.1,0.35];
const lErr2=[0.3,0.4,0.3,0.3,0.8];
const lDots1=[[1.9,1.05,0.8,0.75],[1.5,1.2,0.8,0.75],[1.95,1.2,0.8,0.6],[1.3,1.25,0.9,0.75],[2,1.2,0.8,0.65]];
const lDots2=[[3.4,3,2.9,2.6],[2.95,2.2,2,1.6],[3.5,3.3,2.7,2.3],[2.35,2.2,2.1,1.6],[11.6,11.6,9.8,8.3]];

/* ---------- panel m data ---------- */
const mCats=["M1","M2"];
const mMeans=[800,4700];
const mErrs=[30,180];
const mDots=[[820,860,810,790,810],[5195,4720,4448,4460]];
const mTicks=[0,2000,4000,6000];
const mTickLabels=["0","2,000","4,000","6,000"];

/* ---------- panel o data ---------- */
const oCats=["M1-like","M2-like"];
const oP1Ticks=[0,4,8,12];
const oP1Means=[1,7.3];
const oP1Errs=[0.06,0.4];
const oP1Dots=[[1.25,1.15,1.1,1.05,1,1,0.95,0.95,0.9,0.85],[9.66,8.1,8,7.4,7.3,7.2,6.8,6.7,6.3,6.2]];
const oP2Ticks=[0,1,2,3];
const oP2Means=[1,1.95];
const oP2Errs=[0.05,0.2];
const oP2Dots=[[1.15,1.03,1.02,1,0.93,0.92],[2.62,2.22,1.9,1.45,1.35]];
const oP3Ticks=[0,1,2,3,4];
const oP3Means=[1,1.85];
const oP3Errs=[0.04,0.2];
const oP3Dots=[[1.13,1.1,1.1,1,0.95,0.85],[2.85,1.8,1.8,1.6,1.5]];
const oP4Ticks=[0,1,2,3,4,5];
const oP4Means=[1,2.6];
const oP4Errs=[0.1,0.33];
const oP4Dots=[[1.2,1,0.95,0.95,0.93],[3.85,2.5,2.4,2.3,2.05]];

/* ---------- drawing helpers ---------- */
const NS="http://www.w3.org/2000/svg";
const RED="#dc2a1b",BLUE="#3676b8",AXIS="#666";
function node(tag,parent,name,attrs,txt){
  const el=document.createElementNS(NS,tag);
  for(const k in attrs){el.setAttribute(k,attrs[k]);}
  if(txt!==undefined){el.textContent=txt;}
  
  
  parent.appendChild(el);
  return el;
}
function linear(base,top,max){return v=>base-v*(base-top)/max;}
/* dots at similar heights form a cluster and are spread evenly around the bar centre */
function drawDots(g,name,vals,cx,y,r,spread){
  const ys=vals.map(y).sort((a,b)=>a-b);
  let i=0;
  while(i<ys.length){
    let j=i;
    while(j+1<ys.length&&ys[j+1]-ys[j]<r*1.5){j++;}
    const n=j-i+1;
    const half=n===1?0:(n===2?r*1.4:spread);
    for(let k=0;k<n;k++){
      const slot=k%2===0?k/2:n-1-(k-1)/2;
      const px=n===1?cx:cx-half+slot*(2*half/(n-1));
      node('circle',g,name+'-dot',{cx:px,cy:ys[i+k],r:r,fill:'#000'});
    }
    i=j+1;
  }
}
function drawBar(g,name,cx,bw,v,base,y,color,stroke){
  if(v<=0){return;}
  node('rect',g,name,{x:cx-bw/2,y:y(v),width:bw,height:base-y(v),fill:color,stroke:stroke||'#1a1a1a','stroke-width':1.8});
}
function drawErr(g,name,cx,v,e,y,cap){
  if(e<=0){return;}
  const d=`M${cx} ${y(Math.max(v-e,0))}V${y(v+e)}M${cx-cap} ${y(v+e)}H${cx+cap}M${cx-cap} ${y(Math.max(v-e,0))}H${cx+cap}`;
  node('path',g,name,{d:d,stroke:'#000','stroke-width':1.9,fill:'none'});
}
function drawYAxis(g,c){
  node('line',g,'y-axis',{x1:c.ax,x2:c.ax,y1:c.top,y2:c.base,stroke:AXIS,'stroke-width':1.7});
  c.ticks.forEach((t,i)=>{
    const py=c.y(t);
    node('line',g,'y-tick',{x1:c.tickLeft,x2:c.ax,y1:py,y2:py,stroke:AXIS,'stroke-width':1.5});
    const lab=c.tickLabels?c.tickLabels[i]:String(t);
    node('text',g,'y-tick-label',{x:c.labelX,y:py+8.5,'text-anchor':'end','font-size':c.tickFont||25},lab);
  });
}
function drawCatLabel(g,cat,px,c){
  const attrs={transform:`translate(${px+c.catDx},${c.base+c.catDy}) rotate(-45)`,'text-anchor':'end','font-size':c.catFont||24};
  if(c.italic){attrs['font-style']='italic';}
  node('text',g,'category-label',attrs,cat);
}
function grouped(c){
  const g=document.getElementById(c.id);
  if(!c.noAxis){drawYAxis(g,c);}
  c.cats.forEach((cat,i)=>{
    const cx=c.x0+i*c.step, x1=cx+c.off1, x2=cx+c.off2;
    drawBar(g,'bar-m1-'+cat,x1,c.bw,c.m1[i],c.base,c.y,RED);
    drawBar(g,'bar-m2-'+cat,x2,c.bw,c.m2[i],c.base,c.y,BLUE);
    drawDots(g,'m1-'+cat,c.d1[i],x1,c.y,c.r,c.sep);
    drawDots(g,'m2-'+cat,c.d2[i],x2,c.y,c.r,c.sep);
    drawErr(g,'error-bar-m1-'+cat,x1,c.m1[i],c.e1[i],c.y,c.cap);
    drawErr(g,'error-bar-m2-'+cat,x2,c.m2[i],c.e2[i],c.y,c.cap);
    node('line',g,'x-tick',{x1:cx,x2:cx,y1:c.base,y2:c.base+c.tickDown,stroke:'#333','stroke-width':1.4});
    drawCatLabel(g,cat,cx,c);
    if(c.sig){node('text',g,'significance-mark',{x:x2+1,y:c.y(c.sig[i]),'text-anchor':'middle','font-size':c.sigFont||24},'a');}
  });
  node('line',g,'x-axis',{x1:c.tickLeft,x2:c.right,y1:c.base,y2:c.base,stroke:AXIS,'stroke-width':2});
}
function pair(c){
  const g=document.getElementById(c.id);
  drawYAxis(g,c);
  c.cats.forEach((cat,i)=>{
    const cx=c.xs[i];
    drawBar(g,'bar-'+cat,cx,c.bw,c.means[i],c.base,c.y,i===0?RED:BLUE);
    drawDots(g,cat,c.dots[i],cx,c.y,c.r,c.sep);
    drawErr(g,'error-bar-'+cat,cx,c.means[i],c.errs[i],c.y,c.cap);
    node('line',g,'x-tick',{x1:cx,x2:cx,y1:c.base,y2:c.base+c.tickDown,stroke:'#333','stroke-width':1.4});
    if(c.rot){drawCatLabel(g,cat,cx,c);}
    else{node('text',g,'category-label',{x:cx,y:c.labelY,'text-anchor':'middle','font-size':25},cat);}
  });
  node('line',g,'x-axis',{x1:c.tickLeft,x2:c.right,y1:c.base,y2:c.base,stroke:'#222','stroke-width':1.7});
}

/* ---------- panel a ---------- */
(function(){
  const g=document.getElementById('panel-a');
  const left=129,right=587,top=95,bottom=555,mid=358;
  const kY=k=>top+k*(bottom-top)/12;
  const gX=v=>{
    const s=v<0?-1:1,m=Math.abs(v);
    if(m<=5.5){return mid+v*12.6;}
    const d=m<=100?96.7+(m-5)*0.7086:164+(m-100)*0.649;
    return mid+s*d;
  };
  const thr=kY(1.3),xr=gX(1.5);
  node('rect',g,'significant-m2-region',{x:xr,y:thr,width:right-xr,height:bottom-thr,fill:'#d8d8d8'});
  node('line',g,'plot-top-border',{x1:118,x2:right,y1:top,y2:top,stroke:'#111','stroke-width':1.2});
  node('line',g,'y-axis-left',{x1:left,x2:left,y1:top,y2:bottom,stroke:AXIS,'stroke-width':1.6});
  node('line',g,'plot-right-border',{x1:right,x2:right,y1:top,y2:bottom,stroke:AXIS,'stroke-width':1.6});
  aYTicks.forEach(k=>{node('line',g,'y-tick',{x1:118,x2:left,y1:kY(k),y2:kY(k),stroke:AXIS,'stroke-width':1.5});});
  [[118,255],[295,421],[461,587]].forEach(s=>{node('line',g,'x-axis-segment',{x1:s[0],x2:s[1],y1:bottom,y2:bottom,stroke:AXIS,'stroke-width':2});});
  aXTickValues.forEach(v=>{const px=gX(v);node('line',g,'x-tick',{x1:px,x2:px,y1:bottom,y2:bottom+11,stroke:'#333','stroke-width':1.3});});
  node('line',g,'center-line',{x1:mid,x2:mid,y1:top,y2:bottom+11,stroke:'#000','stroke-width':1.6});
  node('line',g,'threshold-left',{x1:gX(-1.5),x2:gX(-1.5),y1:top,y2:bottom,stroke:'#000','stroke-width':1.8,'stroke-dasharray':'9 5'});
  node('line',g,'threshold-right',{x1:xr,x2:xr,y1:top,y2:bottom,stroke:'#000','stroke-width':1.8,'stroke-dasharray':'9 5'});
  node('line',g,'threshold-p',{x1:left,x2:right,y1:thr,y2:thr,stroke:'#000','stroke-width':1.8,'stroke-dasharray':'11 5'});
  aOpenG.forEach((v,i)=>{node('circle',g,'protein-not-significant',{cx:gX(v),cy:kY(aOpenK[i]),r:6.5,fill:'#fff',stroke:'#000','stroke-width':1.5});});
  aCoreG.forEach((v,i)=>{node('circle',g,'protein-dense-core',{cx:gX(v),cy:kY(aCoreK[i]),r:8,fill:'#000'});});
  aRedG.forEach((v,i)=>{node('circle',g,'protein-up-m1',{cx:gX(v),cy:kY(aRedK[i]),r:6.7,fill:RED,stroke:'#111','stroke-width':1.7});});
  aBlueG.forEach((v,i)=>{node('circle',g,'protein-up-m2',{cx:gX(v),cy:kY(aBlueK[i]),r:6.7,fill:BLUE,stroke:'#111','stroke-width':1.7});});
})();

/* ---------- panel b ---------- */
grouped({id:'panel-b',ax:722,base:215,top:54,y:linear(215,54,1.5),ticks:bTicks,tickLabels:bTickLabels,tickLeft:712,labelX:700,tickFont:23,right:1286,
  cats:bCats,x0:752.7,step:71.2,off1:-13.6,off2:13.6,bw:16.5,m1:bM1,m2:bM2,e1:bErr1,e2:bErr2,d1:bDots1,d2:bDots2,r:3.9,sep:7,cap:5,tickDown:11,catDx:9,catDy:36,catFont:25,sig:bSig,sigFont:23});

/* ---------- panel d ---------- */
(function(){
  const g=document.getElementById('panel-d');
  const left=1324.7,top=116,cw=25.53,ch=25.17;
  const stops=[[-1,[62,74,166]],[-0.85,[54,48,154]],[-0.65,[44,39,114]],[-0.5,[36,34,95]],[-0.35,[26,26,77]],[-0.2,[20,20,47]],[-0.1,[23,23,31]],[0,[17,17,17]],[0.2,[47,42,20]],[0.3,[65,60,24]],[0.42,[95,90,34]],[0.5,[111,106,38]],[0.6,[138,133,42]],[0.72,[168,163,39]],[0.85,[207,199,10]],[0.95,[230,220,0]],[1,[246,228,15]]];
  const color=v=>{
    for(let i=1;i<stops.length;i++){
      if(v<=stops[i][0]){
        const a=stops[i-1],b=stops[i],t=(v-a[0])/(b[0]-a[0]);
        return 'rgb('+a[1].map((c,j)=>Math.round(c+(b[1][j]-c)*t)).join(',')+')';
      }
    }
    return 'rgb(246,228,15)';
  };
  heatGenes.forEach((gene,r)=>{
    const vals=heatM1[r].concat(heatM2[r]);
    vals.forEach((v,c)=>{
      node('rect',g,'heatmap-cell-'+gene,{x:left+c*cw,y:top+r*ch,width:cw,height:ch,fill:color(v),stroke:'#0c0c0c','stroke-width':1.6});
    });
    node('text',g,'heatmap-row-label',{x:1592.6,y:top+r*25.42+21.5,'font-size':24.5},gene);
  });
  heatSampleLabels.forEach((s,c)=>{
    node('text',g,'heatmap-sample-label',{x:left+(c+0.5)*cw-1.5,y:104,'text-anchor':'middle','font-size':23},s);
  });
})();

/* ---------- panel e ---------- */
pair({id:'panel-e',ax:1875,base:574,top:308,y:linear(574,308,2.5),ticks:eTicks,tickLabels:eTickLabels,tickLeft:1865,labelX:1852,tickFont:24,right:2062.5,
  cats:eCats,xs:[1929,2009],bw:51,means:eMeans,errs:eErrs,dots:eDots,r:5.5,sep:6,cap:14,tickDown:10,labelY:615});

/* ---------- panel g ---------- */
grouped({id:'panel-g',ax:129.5,base:1126,top:968,y:linear(1126,968,3),ticks:gTicks,tickLeft:119.6,labelX:107,right:634,
  cats:gCats,x0:158,step:63.8,off1:-11.3,off2:11.3,bw:16.5,m1:gM1,m2:gM2,e1:gErr1,e2:gErr2,d1:gDots1,d2:gDots2,r:4.4,sep:7,cap:6,tickDown:12,catDx:12,catDy:30,catFont:26,italic:true});

/* ---------- panel h ---------- */
(function(){
  const base=1087;
  const yLow=v=>base-v*7.23;
  const yUp=v=>987.4-(v-10)*0.8696;
  const y=v=>v<=10?yLow(v):yUp(v);
  const g=document.getElementById('panel-h');
  hTicksLower.forEach(t=>{
    node('line',g,'y-tick',{x1:827.4,x2:836.6,y1:yLow(t),y2:yLow(t),stroke:AXIS,'stroke-width':1.5});
    node('text',g,'y-tick-label',{x:815,y:yLow(t)+8.5,'text-anchor':'end','font-size':25},String(t));
  });
  hTicksUpper.forEach(t=>{
    node('line',g,'y-tick',{x1:827.4,x2:836.6,y1:yUp(t),y2:yUp(t),stroke:AXIS,'stroke-width':1.5});
    node('text',g,'y-tick-label',{x:815,y:yUp(t)+8.5,'text-anchor':'end','font-size':25},String(t));
  });
  grouped({id:'panel-h',noAxis:true,ax:836.6,base:base,top:770,y:y,tickLeft:827.4,right:1548.5,
    cats:hCats,x0:882.5,step:77.5,off1:-19.5,off2:19,bw:24,m1:hM1,m2:hM2,e1:hErr1,e2:hErr2,d1:hDots1,d2:hDots2,r:5.2,sep:7,cap:7.5,tickDown:12,catDx:10,catDy:32,catFont:25,italic:true,sig:hSig,sigFont:24});
})();

/* ---------- panel i ---------- */
grouped({id:'panel-i',ax:1698,base:1107,top:790.5,y:linear(1107,790.5,4),ticks:iTicks,tickLeft:1688,labelX:1676,right:2014.5,
  cats:iCats,x0:1727,step:64.4,off1:-11.4,off2:11.8,bw:15.6,m1:iM1,m2:iM2,e1:iErr1,e2:iErr2,d1:iDots1,d2:iDots2,r:4.8,sep:8,cap:5,tickDown:10,catDx:7,catDy:31,catFont:26,italic:true});

/* ---------- panel k ---------- */
grouped({id:'panel-k',ax:129,base:1683,top:1489,y:linear(1683,1489,2),ticks:kTicks,tickLabels:kTickLabels,tickLeft:118.4,labelX:106,right:633,
  cats:kCats,x0:157.4,step:63.5,off1:-11.3,off2:11.7,bw:15,m1:kM1,m2:kM2,e1:kErr1,e2:kErr2,d1:kDots1,d2:kDots2,r:4.2,sep:5.5,cap:6,tickDown:11,catDx:10,catDy:31,catFont:25,italic:true});

/* ---------- panel l ---------- */
grouped({id:'panel-l',ax:784.6,base:1653.4,top:1337,y:linear(1653.4,1337,15),ticks:lTicks,tickLeft:774.4,labelX:762.6,right:1101,
  cats:lCats,x0:813.7,step:64.3,off1:-12,off2:11.7,bw:16,m1:lM1,m2:lM2,e1:lErr1,e2:lErr2,d1:lDots1,d2:lDots2,r:5,sep:6,cap:5.5,tickDown:10,catDx:7,catDy:29,catFont:25,italic:true});

/* ---------- panel m ---------- */
pair({id:'panel-m',ax:1281,base:1653.4,top:1337,y:linear(1653.4,1337,6000),ticks:mTicks,tickLabels:mTickLabels,tickLeft:1272,labelX:1259,right:1439,
  cats:mCats,xs:[1326,1394],bw:43,means:mMeans,errs:mErrs,dots:mDots,r:5.2,sep:17,cap:12,tickDown:10,labelY:1694});

/* ---------- panel o ---------- */
[[1575,1603,1646,1673.7,oP1Ticks,oP1Means,oP1Errs,oP1Dots,'patient-1'],
 [1723.6,1751,1794,1822,oP2Ticks,oP2Means,oP2Errs,oP2Dots,'patient-2'],
 [1873,1901,1943.6,1972,oP3Ticks,oP3Means,oP3Errs,oP3Dots,'patient-3'],
 [2023.4,2051,2093.4,2122,oP4Ticks,oP4Means,oP4Errs,oP4Dots,'patient-4']].forEach(p=>{
  node('g',document.getElementById('panel-o'),p[8]+'-chart',{id:p[8]});
  const max=p[4][p[4].length-1];
  pair({id:p[8],ax:p[0],base:1653.4,top:1504.4,y:linear(1653.4,1504.4,max),ticks:p[4],tickLeft:p[0]-10,labelX:p[0]-18,right:p[3],
    cats:oCats,xs:[p[1],p[2]],bw:28,means:p[5],errs:p[6],dots:p[7],r:4,sep:11,cap:8,tickDown:12,rot:true,catDx:7,catDy:30,catFont:25});
});
</script>
</body>
</html>
